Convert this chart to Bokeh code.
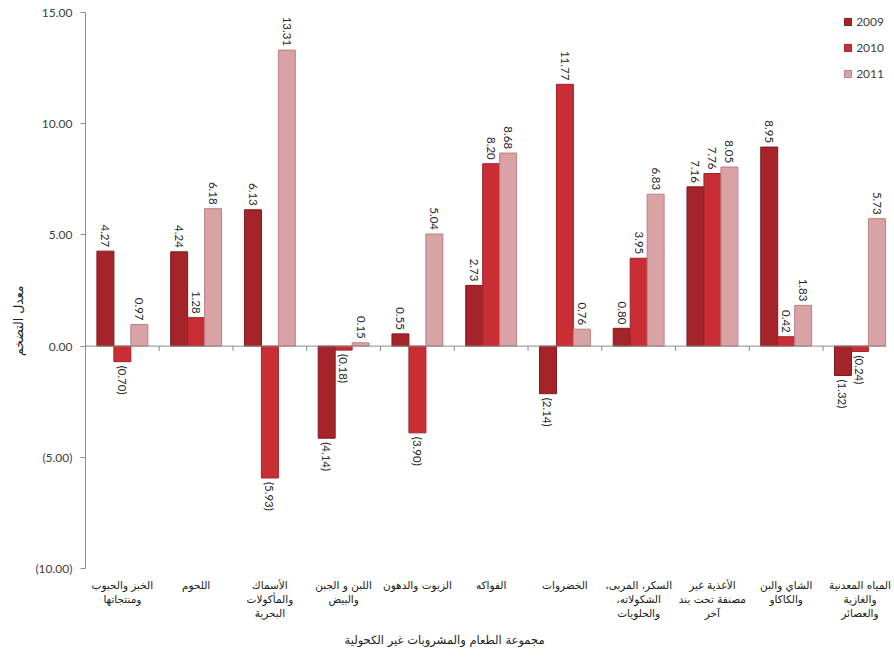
import numpy as np
from bokeh.plotting import figure
from bokeh.models import (ColumnDataSource, FixedTicker, NumeralTickFormatter, Span,
                          Legend, LegendItem, LinearAxis, Title)
from bokeh.embed import file_html
from bokeh.resources import INLINE
from bokeh.core.properties import value

categories = [
    "الخبز والحبوب\nومنتجاتها",
    "اللحوم",
    "الأسماك\nوالمأكولات\nالبحرية",
    "اللبن و الجبن\nوالبيض",
    "الزيوت والدهون",
    "الفواكه",
    "الخضروات",
    "السكر، المربى،\nالشكولاته،\nوالحلويات",
    "الأغذية غير\nمصنفة تحت بند\nآخر",
    "الشاي والبن\nوالكاكاو",
    "المياه المعدنية\nوالغازية\nوالعصائر",
]
years = ["2009", "2010", "2011"]
v2009 = [4.27, 4.24, 6.13, -4.14, 0.55, 2.73, -2.14, 0.80, 7.16, 8.95, -1.32]
v2010 = [-0.70, 1.28, -5.93, -0.18, -3.90, 8.20, 11.77, 3.95, 7.76, 0.42, -0.24]
v2011 = [0.97, 6.18, 13.31, 0.15, 5.04, 8.68, 0.76, 6.83, 8.05, 1.83, 5.73]
y_ticks = [-10, -5, 0, 5, 10, 15]
x_title = "مجموعة الطعام والمشروبات غير الكحولية"
y_title = "معدل التضخم"

fills = ["#A4242A", "#C92E34", "#D9A2A5"]
lines = ["#7E1A1E", "#9E2227", "#B98083"]
bar_w = 0.23
offsets = [-bar_w, 0.0, bar_w]
RLM = "\u200F"

p = figure(width=894, height=657, output_backend="svg", toolbar_location=None,
           x_range=(-0.5, 10.36), y_range=(-10, 15),
           min_border_left=85, min_border_top=12, min_border_right=8, min_border_bottom=89)
p.outline_line_color = None
p.xgrid.grid_line_color = None
p.ygrid.grid_line_color = None
p.background_fill_color = "white"

idx = np.arange(len(categories))
renderers = []
for series, fc, lc, off in zip([v2009, v2010, v2011], fills, lines, offsets):
    vals = np.array(series)
    src = ColumnDataSource(dict(x=idx + off, top=vals))
    r = p.vbar(x="x", top="top", bottom=0, width=bar_w, source=src,
               fill_color=fc, line_color=lc, line_width=1)
    renderers.append(r)
    pos = vals >= 0
    labels = ["%.2f" % v if v >= 0 else "(%.2f)" % abs(v) for v in vals]
    sp = ColumnDataSource(dict(x=(idx + off)[pos], y=vals[pos],
                               t=[l for l, k in zip(labels, pos) if k]))
    sn = ColumnDataSource(dict(x=(idx + off)[~pos], y=vals[~pos],
                               t=[l for l, k in zip(labels, pos) if not k]))
    p.text(x="x", y="y", text="t", source=sp, angle=-np.pi / 2, text_align="right",
           text_baseline="middle", y_offset=-4, text_font=value("Lato"),
           text_font_size="11.5px", text_color="#262626")
    p.text(x="x", y="y", text="t", source=sn, angle=-np.pi / 2, text_align="left",
           text_baseline="middle", y_offset=4, text_font=value("Lato"),
           text_font_size="11.5px", text_color="#262626")

# zero line with category separators
p.add_layout(Span(location=0, dimension="width", line_color="#8C8C8C", line_width=1))
bounds = idx[:-1] + 0.5
p.segment(x0=bounds, x1=bounds, y0=np.zeros(len(bounds)), y1=np.full(len(bounds), -0.22),
          line_color="#8C8C8C", line_width=1)

# y axis
yax = p.yaxis[0]
yax.ticker = FixedTicker(ticks=y_ticks)
yax.formatter = NumeralTickFormatter(format="(0.00)")
yax.axis_line_color = "#8C8C8C"
yax.major_tick_line_color = "#8C8C8C"
yax.major_tick_out = 5
yax.major_tick_in = 0
yax.minor_tick_line_color = None
yax.major_label_text_font = "Lato"
yax.major_label_text_font_size = "12px"
yax.major_label_text_color = "#404040"
yax.major_label_standoff = 8

# x axis: one axis per text line of the category labels
split = [c.split("\n") for c in categories]
n_lines = max(len(s) for s in split)
xaxes = [p.xaxis[0]]
for k in range(1, n_lines):
    ax = LinearAxis()
    p.add_layout(ax, "below")
    xaxes.append(ax)
for k, ax in enumerate(xaxes):
    ax.ticker = FixedTicker(ticks=list(idx))
    ax.major_label_overrides = {int(i): (RLM + s[k] + RLM if k < len(s) else " ")
                                for i, s in zip(idx, split)}
    ax.axis_line_color = None
    ax.major_tick_line_color = None
    ax.minor_tick_line_color = None
    ax.major_tick_out = 0
    ax.major_tick_in = 0
    ax.major_label_text_font = "DejaVu Sans"
    ax.major_label_text_font_size = "10.5px"
    ax.major_label_text_color = "#202020"
    ax.major_label_standoff = 10 if k == 0 else -1

xt = Title(text=x_title, align="left", offset=259, text_font="DejaVu Sans",
           text_font_size="11.5px", text_font_style="normal", text_color="#202020",
           standoff=18)
p.add_layout(xt, "below")

yt = Title(text=y_title, align="right", offset=273, text_font="DejaVu Sans",
           text_font_size="12.5px", text_font_style="normal", text_color="#202020",
           standoff=13)
p.add_layout(yt, "left")

legend = Legend(items=[LegendItem(label=y, renderers=[r]) for y, r in zip(years, renderers)],
                location="top_right")
legend.border_line_color = None
legend.background_fill_alpha = 0
legend.label_text_font = "Lato"
legend.label_text_font_size = "12px"
legend.label_text_color = "#404040"
legend.glyph_width = 9
legend.glyph_height = 9
legend.label_height = 14
legend.spacing = 11
legend.padding = 2
legend.margin = 2
legend.label_standoff = 4
p.add_layout(legend)

open("out.html", "w").write(file_html(p, INLINE))
